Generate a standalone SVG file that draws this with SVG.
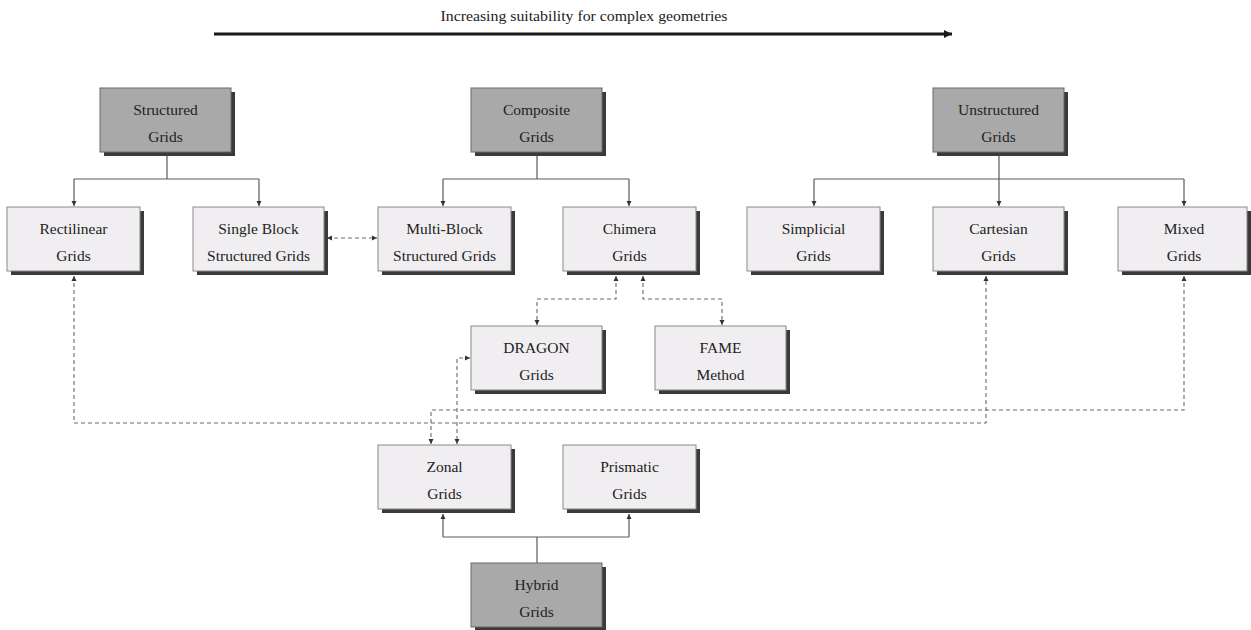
<svg xmlns="http://www.w3.org/2000/svg" width="1251" height="630" viewBox="0 0 1251 630">
<style>
.bg{fill:#ffffff}
.shadow{fill:#3a3a3a}
.dark{fill:#a9a9a9;stroke:#6a6a6a;stroke-width:1}
.light{fill:#f0eef0;stroke:#8a8a8a;stroke-width:1}
.t{font-family:"Liberation Serif","Times New Roman",serif;font-size:15.5px;fill:#222222;text-anchor:middle}
.solid{fill:none;stroke:#5a5a5a;stroke-width:1.2}
.dash{fill:none;stroke:#6a6a6a;stroke-width:1.1;stroke-dasharray:4 3}
.top{fill:none;stroke:#1a1a1a;stroke-width:3}
</style>
<defs>
<marker id="ah" viewBox="0 0 10 10" refX="10" refY="5" markerWidth="5" markerHeight="6" markerUnits="userSpaceOnUse" orient="auto-start-reverse">
<path d="M0,0 L10,5 L0,10 z" fill="#333333"/>
</marker>
<marker id="big" viewBox="0 0 10 10" refX="10" refY="5" markerWidth="9" markerHeight="8" markerUnits="userSpaceOnUse" orient="auto">
<path d="M0,0 L10,5 L0,10 z" fill="#1a1a1a"/>
</marker>
</defs>
<rect class="bg" x="0" y="0" width="1251" height="630"/>

<g id="title">
<text class="t" x="584" y="21" textLength="287" lengthAdjust="spacingAndGlyphs">Increasing suitability for complex geometries</text>
<line class="top" x1="214" y1="34" x2="952" y2="34" marker-end="url(#big)"/>
</g>

<g id="connectors">
<path class="solid" d="M167,155 V179 M74,179 H259"/>
<path class="solid" d="M74,179 V206" marker-end="url(#ah)"/>
<path class="solid" d="M259,179 V206" marker-end="url(#ah)"/>
<path class="solid" d="M537,155 V179 M443,179 H629"/>
<path class="solid" d="M443,179 V206" marker-end="url(#ah)"/>
<path class="solid" d="M629,179 V206" marker-end="url(#ah)"/>
<path class="solid" d="M814,179 H1184"/>
<path class="solid" d="M999,155 V206" marker-end="url(#ah)"/>
<path class="solid" d="M814,179 V206" marker-end="url(#ah)"/>
<path class="solid" d="M1184,179 V206" marker-end="url(#ah)"/>
<path class="solid" d="M537,563 V537 M443,537 H629"/>
<path class="solid" d="M443,537 V514" marker-end="url(#ah)"/>
<path class="solid" d="M629,537 V514" marker-end="url(#ah)"/>
<path class="dash" d="M327,238 H377" marker-start="url(#ah)" marker-end="url(#ah)"/>
<path class="dash" d="M616,276 V299 H537 V325" marker-start="url(#ah)" marker-end="url(#ah)"/>
<path class="dash" d="M643,276 V299 H722 V325" marker-start="url(#ah)" marker-end="url(#ah)"/>
<path class="dash" d="M74,276 V423 H986 V276" marker-start="url(#ah)" marker-end="url(#ah)"/>
<path class="dash" d="M1184,276 V410 H431 V444" marker-start="url(#ah)" marker-end="url(#ah)"/>
<path class="dash" d="M470,358 H457 V444" marker-start="url(#ah)" marker-end="url(#ah)"/>
</g>

<g id="structured">
<rect class="shadow" x="104" y="92" width="131" height="64"/>
<rect class="dark" x="100" y="88" width="131" height="64"/>
<text class="t" x="165.5" y="115">Structured</text>
<text class="t" x="165.5" y="142">Grids</text>
</g>
<g id="composite">
<rect class="shadow" x="475" y="92" width="131" height="64"/>
<rect class="dark" x="471" y="88" width="131" height="64"/>
<text class="t" x="536.5" y="115">Composite</text>
<text class="t" x="536.5" y="142">Grids</text>
</g>
<g id="unstructured">
<rect class="shadow" x="937" y="92" width="131" height="64"/>
<rect class="dark" x="933" y="88" width="131" height="64"/>
<text class="t" x="998.5" y="115">Unstructured</text>
<text class="t" x="998.5" y="142">Grids</text>
</g>

<g id="rectilinear">
<rect class="shadow" x="11" y="211" width="133" height="64"/>
<rect class="light" x="7" y="207" width="133" height="64"/>
<text class="t" x="73.5" y="234">Rectilinear</text>
<text class="t" x="73.5" y="261">Grids</text>
</g>
<g id="singleblock">
<rect class="shadow" x="197" y="211" width="131" height="64"/>
<rect class="light" x="193" y="207" width="131" height="64"/>
<text class="t" x="258.5" y="234">Single Block</text>
<text class="t" x="258.5" y="261">Structured Grids</text>
</g>
<g id="multiblock">
<rect class="shadow" x="382" y="211" width="133" height="64"/>
<rect class="light" x="378" y="207" width="133" height="64"/>
<text class="t" x="444.5" y="234">Multi-Block</text>
<text class="t" x="444.5" y="261">Structured Grids</text>
</g>
<g id="chimera">
<rect class="shadow" x="567" y="211" width="133" height="64"/>
<rect class="light" x="563" y="207" width="133" height="64"/>
<text class="t" x="629.5" y="234">Chimera</text>
<text class="t" x="629.5" y="261">Grids</text>
</g>
<g id="simplicial">
<rect class="shadow" x="751" y="211" width="133" height="64"/>
<rect class="light" x="747" y="207" width="133" height="64"/>
<text class="t" x="813.5" y="234">Simplicial</text>
<text class="t" x="813.5" y="261">Grids</text>
</g>
<g id="cartesian">
<rect class="shadow" x="937" y="211" width="131" height="64"/>
<rect class="light" x="933" y="207" width="131" height="64"/>
<text class="t" x="998.5" y="234">Cartesian</text>
<text class="t" x="998.5" y="261">Grids</text>
</g>
<g id="mixed">
<rect class="shadow" x="1122" y="211" width="129" height="64"/>
<rect class="light" x="1118" y="207" width="129" height="64"/>
<text class="t" x="1184" y="234">Mixed</text>
<text class="t" x="1184" y="261">Grids</text>
</g>

<g id="dragon">
<rect class="shadow" x="475" y="330" width="131" height="64"/>
<rect class="light" x="471" y="326" width="131" height="64"/>
<text class="t" x="536.5" y="353">DRAGON</text>
<text class="t" x="536.5" y="380">Grids</text>
</g>
<g id="fame">
<rect class="shadow" x="659" y="330" width="131" height="64"/>
<rect class="light" x="655" y="326" width="131" height="64"/>
<text class="t" x="720.5" y="353">FAME</text>
<text class="t" x="720.5" y="380">Method</text>
</g>

<g id="zonal">
<rect class="shadow" x="382" y="449" width="133" height="64"/>
<rect class="light" x="378" y="445" width="133" height="64"/>
<text class="t" x="444.5" y="472">Zonal</text>
<text class="t" x="444.5" y="499">Grids</text>
</g>
<g id="prismatic">
<rect class="shadow" x="567" y="449" width="133" height="64"/>
<rect class="light" x="563" y="445" width="133" height="64"/>
<text class="t" x="629.5" y="472">Prismatic</text>
<text class="t" x="629.5" y="499">Grids</text>
</g>

<g id="hybrid">
<rect class="shadow" x="475" y="567" width="131" height="64"/>
<rect class="dark" x="471" y="563" width="131" height="64"/>
<text class="t" x="536.5" y="590">Hybrid</text>
<text class="t" x="536.5" y="617">Grids</text>
</g>
</svg>
